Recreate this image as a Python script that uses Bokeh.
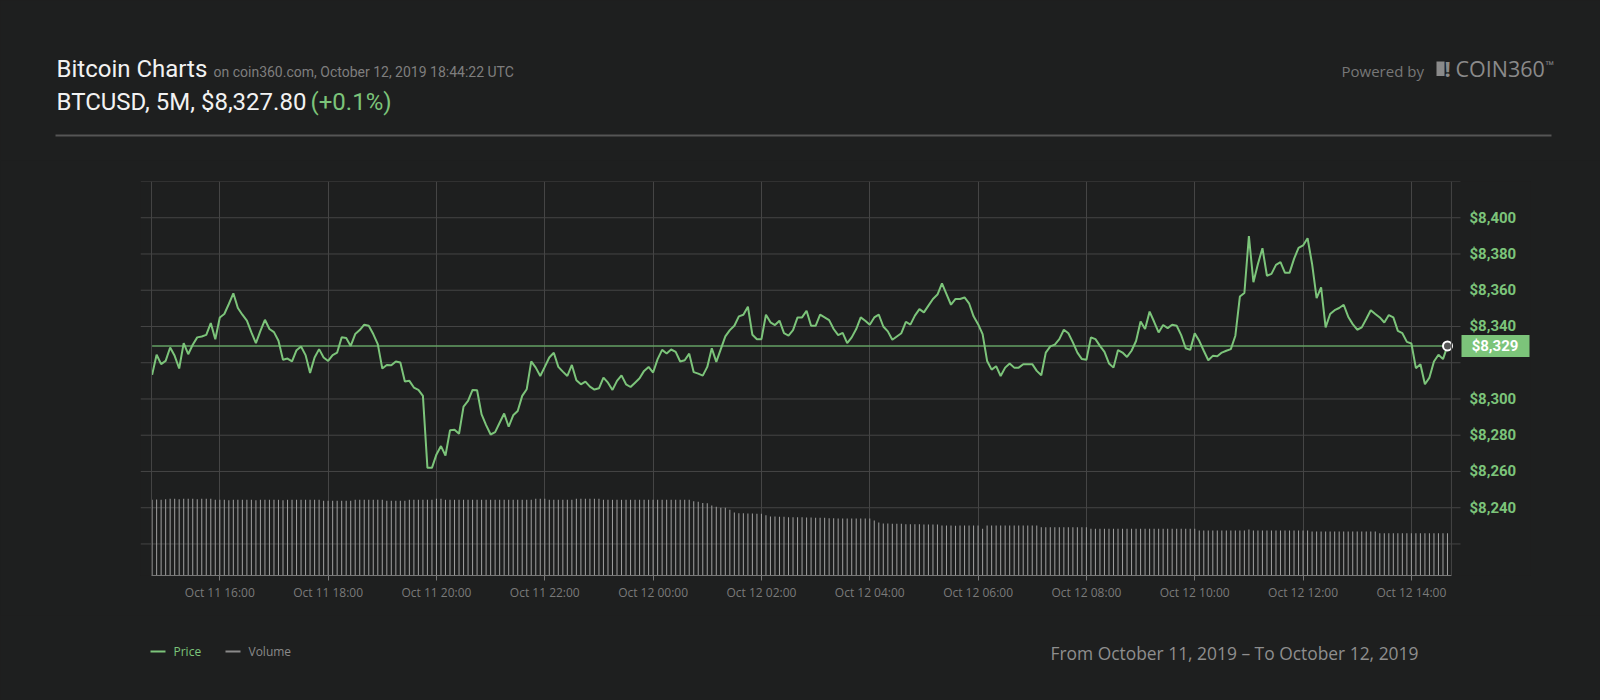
import pandas as pd
from bokeh.plotting import figure
from bokeh.models import (Range1d, FixedTicker, NumeralTickFormatter,
                          DatetimeTickFormatter, Span)
from bokeh.core.properties import value
from bokeh.embed import file_html
from bokeh.resources import INLINE

# ---------------- data ----------------
price = [
    8313.3, 8324.4, 8319.2, 8321.0, 8328.4, 8323.8, 8316.8, 8330.8, 8324.7, 8329.9,
    8334.0, 8334.5, 8335.4, 8341.9, 8333.0, 8345.0, 8346.9, 8352.4, 8358.3, 8350.2,
    8346.5, 8343.2, 8336.7, 8330.8, 8337.6, 8343.7, 8338.6, 8336.9, 8332.1, 8321.6,
    8322.3, 8320.7, 8326.9, 8329.0, 8324.2, 8314.4, 8322.9, 8327.5, 8322.9, 8321.0,
    8324.2, 8325.6, 8334.0, 8333.6, 8329.3, 8335.8, 8338.0, 8341.0, 8340.4, 8335.8,
    8330.3, 8316.8, 8318.8, 8318.6, 8320.7, 8320.1, 8309.6, 8310.0, 8306.3, 8305.0,
    8301.7, 8262.0, 8262.0, 8269.4, 8274.0, 8268.8, 8282.7, 8283.0, 8280.8, 8295.8,
    8298.9, 8305.0, 8304.8, 8291.5, 8285.6, 8280.4, 8281.7, 8286.9, 8292.0, 8284.7,
    8291.0, 8293.4, 8301.7, 8305.4, 8320.7, 8317.3, 8312.7, 8317.7, 8322.9, 8325.5,
    8317.7, 8315.1, 8312.7, 8318.8, 8310.3, 8308.1, 8309.6, 8306.8, 8305.2, 8305.9,
    8311.8, 8309.0, 8305.0, 8310.0, 8313.0, 8308.1, 8306.6, 8309.0, 8311.4, 8315.5,
    8317.7, 8314.6, 8322.0, 8327.1, 8325.1, 8327.3, 8326.0, 8320.7, 8321.4, 8325.0,
    8314.8, 8314.0, 8312.9, 8317.7, 8328.0, 8320.5, 8327.5, 8334.5, 8338.0, 8340.4,
    8345.6, 8346.5, 8350.9, 8335.4, 8333.0, 8333.0, 8346.5, 8342.3, 8340.8, 8343.2,
    8336.3, 8335.0, 8338.0, 8345.0, 8345.0, 8348.7, 8340.4, 8340.4, 8346.5, 8345.0,
    8343.5, 8338.6, 8335.2, 8336.5, 8330.8, 8334.0, 8338.6, 8345.0, 8343.2, 8341.0,
    8345.0, 8346.5, 8340.0, 8337.3, 8332.7, 8334.5, 8336.3, 8342.6, 8341.0, 8346.0,
    8349.6, 8347.8, 8351.5, 8355.2, 8357.6, 8363.8, 8357.9, 8352.0, 8355.2, 8355.2,
    8356.0, 8352.8, 8345.6, 8341.3, 8335.8, 8321.0, 8316.2, 8318.1, 8312.7, 8317.3,
    8319.6, 8317.3, 8317.3, 8319.2, 8319.2, 8319.2, 8315.5, 8313.1, 8325.6, 8329.0,
    8330.0, 8333.0, 8338.2, 8336.3, 8331.2, 8325.6, 8322.0, 8321.6, 8334.0, 8333.0,
    8329.3, 8326.0, 8319.6, 8317.3, 8327.0, 8325.6, 8323.2, 8326.6, 8332.0, 8342.8,
    8338.6, 8348.2, 8342.6, 8336.7, 8340.8, 8339.1, 8341.0, 8340.4, 8335.2, 8328.0,
    8327.1, 8336.2, 8332.1, 8326.6, 8321.4, 8323.8, 8323.6, 8325.6, 8326.6, 8327.5,
    8334.9, 8356.5, 8358.5, 8389.9, 8364.4, 8374.5, 8383.2, 8368.0, 8369.0, 8374.0,
    8375.5, 8369.6, 8369.6, 8377.3, 8383.4, 8384.7, 8388.7, 8374.5, 8355.7, 8361.6,
    8339.5, 8346.9, 8349.0, 8350.2, 8352.0, 8345.4, 8341.3, 8338.2, 8339.5, 8344.1,
    8349.0, 8346.9, 8345.0, 8342.2, 8346.3, 8345.0, 8337.6, 8336.3, 8331.5, 8330.6,
    8317.0, 8319.2, 8308.1, 8311.8, 8320.7, 8324.4, 8322.0, 8329.3,
]

volume = [
    75.7, 76.0, 75.7, 76.3, 76.7, 76.7, 76.3, 76.7, 76.7, 76.7,
    76.3, 76.7, 76.7, 76.7, 75.7, 75.7, 75.7, 75.3, 75.7, 75.7,
    75.7, 75.7, 75.7, 75.3, 75.7, 75.7, 75.7, 75.7, 75.7, 75.3,
    75.7, 75.7, 75.7, 75.7, 75.7, 75.7, 75.7, 75.7, 74.7, 74.7,
    74.7, 74.7, 74.7, 74.7, 74.7, 75.7, 75.7, 75.7, 75.7, 75.7,
    75.7, 75.7, 74.7, 74.7, 74.7, 74.7, 74.7, 75.7, 75.7, 75.7,
    75.7, 75.7, 75.7, 76.7, 76.7, 75.7, 75.7, 75.7, 75.7, 75.7,
    75.7, 75.7, 75.7, 75.7, 75.7, 75.7, 75.7, 75.7, 75.7, 75.7,
    75.7, 75.7, 75.7, 75.7, 75.7, 76.7, 76.7, 76.7, 75.7, 75.7,
    75.7, 75.7, 75.7, 75.7, 76.7, 76.7, 76.7, 76.7, 76.7, 76.7,
    75.7, 75.7, 75.7, 75.7, 75.7, 75.7, 75.7, 75.7, 75.7, 75.7,
    75.7, 75.7, 75.7, 75.7, 75.7, 75.7, 75.7, 75.7, 75.7, 75.7,
    74.3, 73.7, 72.5, 72.3, 70.0, 68.7, 67.8, 67.7, 65.7, 63.0,
    62.3, 62.3, 62.0, 62.0, 61.7, 61.7, 60.3, 59.0, 59.0, 58.7,
    58.7, 58.3, 58.3, 58.3, 58.3, 58.0, 58.0, 57.7, 57.7, 57.7,
    57.3, 57.3, 57.0, 57.0, 57.0, 57.0, 57.0, 57.0, 57.0, 57.0,
    55.0, 53.0, 52.0, 52.0, 51.7, 51.7, 51.7, 51.3, 51.3, 51.3,
    51.3, 51.0, 51.0, 51.0, 51.0, 50.0, 50.0, 50.0, 49.7, 50.0,
    50.0, 50.0, 50.0, 50.0, 46.7, 50.0, 50.0, 50.0, 50.0, 50.0,
    50.0, 50.0, 50.0, 50.0, 50.0, 50.0, 50.0, 48.3, 48.3, 48.3,
    48.3, 48.3, 48.3, 48.3, 48.3, 48.3, 48.3, 48.3, 46.7, 46.7,
    46.7, 46.7, 46.7, 46.7, 46.7, 46.7, 46.7, 46.7, 46.7, 46.7,
    46.7, 46.7, 46.7, 46.7, 46.7, 46.7, 46.7, 46.7, 46.7, 46.7,
    46.7, 46.7, 45.0, 45.0, 45.0, 45.0, 45.0, 45.0, 45.0, 45.0,
    45.0, 45.0, 45.0, 46.0, 45.0, 45.0, 45.0, 45.0, 45.0, 45.0,
    45.0, 45.0, 45.0, 45.0, 45.0, 45.0, 45.0, 44.0, 44.0, 44.0,
    44.0, 44.0, 44.0, 44.0, 44.0, 44.0, 44.0, 44.0, 44.0, 44.0,
    44.0, 44.0, 42.3, 42.3, 42.3, 42.3, 42.3, 42.3, 42.3, 42.3,
    42.3, 42.3, 42.3, 42.3, 42.3, 42.3, 42.3, 42.3,
]

first_time = "2019-10-11 14:45"
window_start = "2019-10-11 14:44:22"
window_end = "2019-10-12 14:44:22"
tick_times = ["2019-10-11 16:00", "2019-10-11 18:00", "2019-10-11 20:00",
              "2019-10-11 22:00", "2019-10-12 00:00", "2019-10-12 02:00",
              "2019-10-12 04:00", "2019-10-12 06:00", "2019-10-12 08:00",
              "2019-10-12 10:00", "2019-10-12 12:00", "2019-10-12 14:00"]
price_label_ticks = [8240, 8260, 8280, 8300, 8340, 8360, 8380, 8400]
price_grid_ticks = [8220, 8240, 8260, 8280, 8300, 8320, 8340, 8360, 8380, 8400, 8420]

# ---------------- styles ----------------
BG = "#1e1f1f"
GREEN = "#7cc47a"
GREEN_DARK = "#64a064"
GRID = "#454545"
GRAY = "#8a8a8a"
W = 1600

def ms(s):
    return pd.Timestamp(s).value // 10**6

def bare(h, y0, y1):
    f = figure(width=W, height=h, x_range=Range1d(0, W), y_range=Range1d(y1, y0),
               x_axis_type=None, y_axis_type=None, min_border=0,
               toolbar_location=None, output_backend="svg",
               background_fill_color=BG, border_fill_color=BG, outline_line_color=None)
    f.grid.visible = False
    return f

def txt(f, x, y, s, size, color, font="Roboto", style="normal", align="left"):
    f.text(x=[x], y=[y], text=[s], text_font=value(font), text_font_size=size,
           text_color=color, text_font_style=style, text_align=align, text_baseline="middle")

def rect(f, l, r, t, b, color):
    f.quad(left=[l], right=[r], top=[t], bottom=[b], fill_color=color, line_color=None)

# ---------------- header (page y 0..160) ----------------
H1 = 160
hdr = bare(H1, 0, H1)
txt(hdr, 56, 68.5, "Bitcoin Charts", "24px", "#f2f2f2")
txt(hdr, 213, 71.5, "on coin360.com, October 12, 2019 18:44:22 UTC", "14px", "#7e7e7e")
txt(hdr, 56, 101, "BTCUSD, 5M, $8,327.80", "24px", "#f2f2f2")
txt(hdr, 310, 101, "(+0.1%)", "24px", GREEN)
rect(hdr, 55, 1551, 134, 136, "#555555")
txt(hdr, 1341, 70, "Powered by", "15px", "#777777", font="Open Sans")
rect(hdr, 1436, 1444, 61, 75.5, GRAY)
txt(hdr, 1444, 67.5, "!", "22px", GRAY, font="Open Sans", style="bold")
txt(hdr, 1455, 67.5, "COIN360", "21.5px", GRAY, font="Open Sans")
txt(hdr, 1545, 63.5, "\u2122", "11px", GRAY, font="Open Sans")

# ---------------- chart (page y 160..615) ----------------
H2 = 455
times = pd.date_range(first_time, periods=len(price), freq="5min")
last_price = price[-1]

view_start = pd.Timestamp("2019-10-11 14:32:09")   # page x 140
view_end = pd.Timestamp("2019-10-12 14:54:24")     # page x 1460
tag_end = pd.Timestamp("2019-10-12 16:11:57")      # page x 1530

p = figure(
    x_axis_type="datetime", y_axis_location="right",
    x_range=Range1d(view_start, tag_end), y_range=Range1d(8202.6, 8420),
    frame_width=1390, frame_height=394,
    min_border_left=140, min_border_right=70, min_border_top=181 - H1, min_border_bottom=40,
    toolbar_location=None, output_backend="svg",
    background_fill_color=BG, border_fill_color=BG, outline_line_color=None,
)
p.extra_y_ranges = {"vol": Range1d(0, 394)}
p.extra_x_ranges = {"px": Range1d(140, 1530)}

# vertical grid from the axis ticker, horizontal grid limited to the plot body
xt = FixedTicker(ticks=[ms(t) for t in tick_times])
p.xgrid.ticker = xt
p.xgrid.grid_line_color = GRID
p.ygrid.visible = False
p.segment(x0=[view_start] * len(price_grid_ticks), x1=[view_end] * len(price_grid_ticks),
          y0=price_grid_ticks, y1=price_grid_ticks, line_color=GRID, line_width=1)
for t in (window_start, window_end):
    p.add_layout(Span(location=ms(t), dimension="height", line_color=GRID, line_width=1))

# x axis
xa = p.xaxis[0]
xa.ticker = xt
fmt = "%b %d %H:%M"
xa.formatter = DatetimeTickFormatter(milliseconds=fmt, seconds=fmt, minsec=fmt, minutes=fmt,
                                     hourmin=fmt, hours=fmt, days=fmt, months=fmt, years=fmt)
xa.bounds = (ms(window_start), ms(window_end))
xa.axis_line_color = "#777777"
xa.major_tick_line_color = "#777777"
xa.major_tick_out = 5
xa.major_tick_in = 0
xa.minor_tick_line_color = None
xa.major_label_text_color = "#7a7a7a"
xa.major_label_text_font = "Open Sans"
xa.major_label_text_font_size = "12px"
xa.major_label_standoff = 3

# y axis (right edge at page x 1530, labels pulled back to x 1469)
ya = p.yaxis[0]
ya.ticker = FixedTicker(ticks=price_label_ticks)
ya.formatter = NumeralTickFormatter(format="$0,0")
ya.axis_line_color = None
ya.major_tick_line_color = None
ya.minor_tick_line_color = None
ya.major_tick_out = 0
ya.major_tick_in = 0
ya.major_label_standoff = -61
ya.major_label_text_align = "left"
ya.major_label_text_color = GREEN
ya.major_label_text_font = "Roboto"
ya.major_label_text_font_style = "bold"
ya.major_label_text_font_size = "15px"

# volume bars
p.vbar(x=times, top=volume, bottom=0, width=70000, y_range_name="vol",
       fill_color="#9a9a9a", line_color=None)

# current price line
p.line(x=[times[0], times[-1]], y=[last_price, last_price], line_color=GREEN_DARK, line_width=1.5)

# price line
p.line(x=times, y=price, line_color=GREEN, line_width=2)

# last point marker
p.scatter(x=[times[-1]], y=[last_price], size=9, fill_color="#555555",
          line_color="#ffffff", line_width=2)

# current price tag
half = 11 / 1.8125
p.quad(left=[1461], right=[1529], bottom=[last_price - half], top=[last_price + half],
       x_range_name="px", fill_color=GREEN, line_color=None)
p.text(x=[1494.5], y=[last_price], text=[f"${last_price:,.0f}"], x_range_name="px",
       text_align="center", text_baseline="middle", text_color="#ffffff",
       text_font=value("Roboto"), text_font_style="bold", text_font_size="15px")

# ---------------- footer (page y 615..700) ----------------
H3 = 700 - H1 - H2
ftr = bare(H3, H1 + H2, 700)
rect(ftr, 150, 165, 650, 652, GREEN)
txt(ftr, 173, 651, "Price", "12px", GREEN, font="Open Sans")
rect(ftr, 225, 240, 650, 652, GRAY)
txt(ftr, 248, 651, "Volume", "12px", GRAY, font="Open Sans")
txt(ftr, 1050, 652, "From October 11, 2019 \u2013 To October 12, 2019", "17.4px", "#8e8e8e",
    font="Open Sans")

# three independent roots stacked vertically (no frame alignment between them)
html = file_html([hdr, p, ftr], INLINE, title="Bitcoin Charts")
html = html.replace("<body>", f'<body style="background:{BG};">')
open("out.html", "w").write(html)
